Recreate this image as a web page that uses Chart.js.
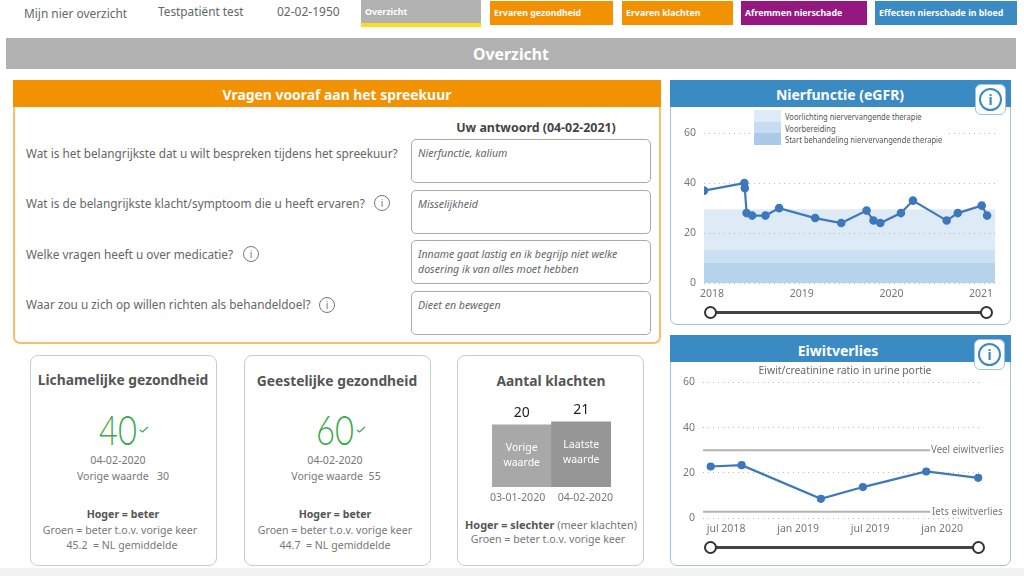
<!DOCTYPE html>
<html>
<head>
<meta charset="utf-8">
<script src="https://cdn.jsdelivr.net/npm/chart.js@4"></script>
<style>
  html, body { margin: 0; padding: 0; background: #fff; }
  body { width: 1024px; height: 576px; position: relative; overflow: hidden; font-family: "Noto Sans", "Open Sans", sans-serif; color: #666; }
  .t { position: absolute; white-space: nowrap; transform: translateY(-50%); }
  .c { position: absolute; white-space: nowrap; transform: translate(-50%, -50%); }
  .box { position: absolute; box-sizing: border-box; }
  .nav { position: absolute; top: 1px; height: 24px; line-height: 24px; color: #fff; font-weight: 700; font-size: 8.8px; padding-left: 4px; box-sizing: border-box; }
  .answer { position: absolute; left: 411px; width: 240px; height: 44px; box-sizing: border-box; border: 1px solid #aaa; border-radius: 5px; padding: 6px 6px; font-size: 10.6px; line-height: 15px; font-style: italic; color: #666; }
  .q { font-size: 11.8px; color: #666; }
  .info { position: absolute; width: 16px; height: 16px; box-sizing: border-box; border: 1.2px solid #777; border-radius: 50%; font-size: 10px; line-height: 14px; text-align: center; color: #777; }
  .card { position: absolute; top: 355px; width: 187px; height: 211px; box-sizing: border-box; border: 1.5px solid #ccc; border-radius: 8px; }
  .ct { font-size: 13.8px; font-weight: 700; color: #555; }
  .small { font-size: 10.6px; color: #777; }
  .big { font-family: Lato, "Noto Sans", sans-serif; font-size: 41px; font-weight: 300; color: #3BAA4E; transform: translate(-50%, -50%) scaleX(0.8); }
  .panel { position: absolute; left: 670px; width: 341px; box-sizing: border-box; border: 1.5px solid #A3C3DC; border-radius: 0 0 7px 7px; }
  .phead { position: absolute; left: 670px; width: 341px; height: 27px; background: #3A8BC4; }
  .iconbox { position: absolute; width: 31px; height: 31px; box-sizing: border-box; background: #fff; border: 1px solid #A3C3DC; border-radius: 6px; }
  .iconbox div { position: absolute; left: 3px; top: 3px; width: 23px; height: 23px; box-sizing: border-box; border: 2.2px solid #3A8BC4; border-radius: 50%; color: #3A8BC4; font-weight: 700; font-size: 14px; line-height: 19px; text-align: center; }
  .track { position: absolute; height: 3px; background: #444; }
  .knob { position: absolute; width: 13px; height: 13px; box-sizing: border-box; background: #fff; border: 2px solid #333; border-radius: 50%; }
  canvas { position: absolute; }
  .legend-swatch { position: absolute; left: 754px; width: 27px; height: 11.5px; }
  .squeeze { transform: translateY(-50%) scaleX(0.9); transform-origin: left center; }
</style>
</head>
<body>

<div class="t" style="left:24px;top:13px;font-size:11.9px">Mijn nier overzicht</div>
<div class="t" style="left:158px;top:11px;font-size:11.8px">Testpatiënt test</div>
<div class="t" style="left:277px;top:11px;font-size:12px">02-02-1950</div>

<div class="nav" style="left:361px;top:0;width:120px;height:23px;background:#B1B1B1">Overzicht</div>
<div class="box" style="left:361px;top:23px;width:120px;height:4px;background:#FFDD1E"></div>
<div class="nav" style="left:490px;width:123px;background:#F39200">Ervaren gezondheid</div>
<div class="nav" style="left:622px;width:111px;background:#F39200">Ervaren klachten</div>
<div class="nav" style="left:741px;width:126px;background:#94187F">Afremmen nierschade</div>
<div class="nav" style="left:875px;width:142px;background:#3A8BC4">Effecten nierschade in bloed</div>

<div class="box" style="left:6px;top:38px;width:1010px;height:31px;background:#B1B1B1"></div>
<div class="c" style="left:511px;top:54px;font-size:15.8px;font-weight:700;color:#fff">Overzicht</div>

<!-- vragen -->
<div class="box" style="left:13px;top:80px;width:648px;height:264px;border:2px solid #F7BE6E;border-radius:0 0 7px 7px"></div>
<div class="box" style="left:13px;top:80px;width:648px;height:27px;background:#F39200"></div>
<div class="c" style="left:337px;top:94px;font-size:13.9px;font-weight:700;color:#fff">Vragen vooraf aan het spreekuur</div>
<div class="c" style="left:536px;top:127px;font-size:12.4px;font-weight:700;color:#444">Uw antwoord (04-02-2021)</div>

<div class="t q" style="left:26px;top:153px">Wat is het belangrijkste dat u wilt bespreken tijdens het spreekuur?</div>
<div class="t q" style="left:26px;top:203px">Wat is de belangrijkste klacht/symptoom die u heeft ervaren?</div>
<div class="info" style="left:374px;top:195px">i</div>
<div class="t q" style="left:26px;top:254px">Welke vragen heeft u over medicatie?</div>
<div class="info" style="left:243px;top:246px">i</div>
<div class="t q" style="left:26px;top:304px">Waar zou u zich op willen richten als behandeldoel?</div>
<div class="info" style="left:319px;top:297px">i</div>

<div class="answer" style="top:139px">Nierfunctie, kalium</div>
<div class="answer" style="top:190px">Misselijkheid</div>
<div class="answer" style="top:240px">Inname gaat lastig en ik begrijp niet welke dosering ik van alles moet hebben</div>
<div class="answer" style="top:291px">Dieet en bewegen</div>

<!-- kaarten -->
<div class="card" style="left:30px"></div>
<div class="c ct" style="left:123px;top:379px">Lichamelijke gezondheid</div>
<div class="c big" style="left:118px;top:429px">40</div>
<svg class="box" style="left:138px;top:424px" width="12" height="10"><path d="M2 6 L4.5 8 L10 3" fill="none" stroke="#3BAA4E" stroke-width="1.2"/></svg>
<div class="c small" style="left:118px;top:460px">04-02-2020</div>
<div class="c small" style="left:123px;top:476px">Vorige waarde&nbsp;&nbsp; 30</div>
<div class="c small" style="left:123px;top:514px;font-weight:700;color:#555">Hoger = beter</div>
<div class="c small" style="left:120px;top:530px">Groen = beter t.o.v. vorige keer</div>
<div class="c small" style="left:122px;top:545px">45.2&nbsp; = NL gemiddelde</div>

<div class="card" style="left:244px"></div>
<div class="c ct" style="left:337px;top:380px">Geestelijke gezondheid</div>
<div class="c big" style="left:335px;top:429px">60</div>
<svg class="box" style="left:355px;top:424px" width="12" height="10"><path d="M2 6 L4.5 8 L10 3" fill="none" stroke="#3BAA4E" stroke-width="1.2"/></svg>
<div class="c small" style="left:335px;top:460px">04-02-2020</div>
<div class="c small" style="left:336px;top:476px">Vorige waarde&nbsp; 55</div>
<div class="c small" style="left:335px;top:514px;font-weight:700;color:#555">Hoger = beter</div>
<div class="c small" style="left:335px;top:530px">Groen = beter t.o.v. vorige keer</div>
<div class="c small" style="left:335px;top:545px">44.7&nbsp; = NL gemiddelde</div>

<div class="card" style="left:457px"></div>
<div class="c ct" style="left:551px;top:380px">Aantal klachten</div>
<canvas id="klachtenChart" width="145" height="112" style="left:480px;top:400px"></canvas>
<div class="c small" style="left:551px;top:524px;font-size:10.9px"><b style="color:#555">Hoger = slechter</b> (meer klachten)</div>
<div class="c small" style="left:548px;top:539px">Groen = beter t.o.v. vorige keer</div>

<!-- nierfunctie -->
<div class="panel" style="top:80px;height:245px"></div>
<div class="phead" style="top:80px"></div>
<div class="c" style="left:840px;top:94px;font-size:14px;font-weight:700;color:#fff">Nierfunctie (eGFR)</div>
<canvas id="egfrChart" width="340" height="206" style="left:670px;top:102px"></canvas>
<div class="box" style="left:754px;top:110px;width:192px;height:34px;background:#fff"></div>
<div id="egfrLegend"></div>
<div class="iconbox" style="left:975px;top:84px"><div>i</div></div>
<div class="track" style="left:711px;top:311px;width:275px"></div>
<div class="knob" style="left:704px;top:306px"></div>
<div class="knob" style="left:980px;top:306px"></div>

<!-- eiwitverlies -->
<div class="panel" style="top:335px;height:231px"></div>
<div class="phead" style="top:335px"></div>
<div class="c" style="left:838px;top:350px;font-size:14px;font-weight:700;color:#fff">Eiwitverlies</div>
<canvas id="eiwitChart" width="340" height="178" style="left:670px;top:365px"></canvas>
<div class="c" style="left:845px;top:370px;font-size:10.4px;color:#666">Eiwit/creatinine ratio in urine portie</div>
<div class="t squeeze" style="left:931px;top:448px;font-size:10.8px;color:#777">Veel eiwitverlies</div>
<div class="t squeeze" style="left:932px;top:510px;font-size:10.8px;color:#777">Iets eiwitverlies</div>
<div class="iconbox" style="left:974px;top:339px"><div>i</div></div>
<div class="track" style="left:710px;top:546px;width:268px"></div>
<div class="knob" style="left:704px;top:541px"></div>
<div class="knob" style="left:972px;top:541px"></div>

<div class="box" style="left:0;top:568px;width:1024px;height:8px;background:#F2F2F2"></div>

<script>
// eGFR
const egfrYears = [2017.91, 2018.36, 2018.365, 2018.385, 2018.447, 2018.595, 2018.748, 2019.15, 2019.44, 2019.723, 2019.8, 2019.876, 2020.106, 2020.24, 2020.616, 2020.74, 2021.007, 2021.067];
const egfrValues = [37, 40, 38, 28, 27, 27, 30, 26, 24, 29, 25, 24, 28, 33, 25, 28, 31, 27];
const yearTicks = [2018, 2019, 2020, 2021];
const bandEdges = [2017.91, 2021.155];
const bandLabels = ['Voorlichting niervervangende therapie', 'Voorbereiding', 'Start behandeling niervervangende therapie'];
const bandTops = [29.5, 13.3, 8];
const bandColors = ['rgba(91,155,213,0.2)', 'rgba(91,155,213,0.14)', 'rgba(91,155,213,0.18)'];
const legendColors = ['#DEEBF7', '#C6DCF0', '#A9CBE9'];

// eiwit / creatinine, x is months since jan 2018
const eiwitMonths = [4.72, 7.3, 13.9, 17.4, 22.67, 27];
const eiwitValues = [22.8, 23.4, 8.5, 13.7, 20.6, 17.8];
const monthTicks = [6, 12, 18, 24];
const monthLabels = ['jul 2018', 'jan 2019', 'jul 2019', 'jan 2020'];
const refMonths = [4.08, 23];
const veelValues = [30, 30];
const ietsValues = [2.8, 2.8];

// klachten
const klachtenDates = ['03-01-2020', '04-02-2020'];
const klachtenValues = [20, 21];
const klachtenNames = [['Vorige', 'waarde'], ['Laatste', 'waarde']];
const klachtenColors = ['#A8A8A8', '#969696'];

const fontName = '"Noto Sans", sans-serif';
const lineBlue = '#3D78BC';

function setTicks(values) {
    return function(scale) {
        scale.ticks = values.map(v => ({ value: v }));
    };
}

function yAxis(max, width) {
    return {
        min: 0,
        max: max,
        ticks: { stepSize: 20, includeBounds: false, color: '#777', padding: 8, font: { family: fontName, size: 10.5 } },
        grid: { color: '#BDBDBD', drawTicks: false },
        border: { display: false, dash: [1, 4] },
        afterFit: s => { s.width = width; s.paddingTop = 0; s.paddingBottom = 0; }
    };
}

function xAxis(min, max, values, labelFn) {
    return {
        type: 'linear',
        min: min,
        max: max,
        afterBuildTicks: setTicks(values),
        ticks: { color: '#777', padding: 5, autoSkip: false, maxRotation: 0, font: { family: fontName, size: 10.5 }, callback: labelFn },
        grid: { display: false, drawTicks: false },
        border: { display: false },
        afterFit: s => { s.height = 25; }
    };
}

function toXY(xs, ys) {
    return xs.map((x, i) => ({ x: x, y: ys[i] }));
}

const bandSets = bandTops.map((top, i) => ({
    label: bandLabels[i],
    data: toXY(bandEdges, [top, top]),
    borderWidth: 0,
    pointRadius: 0,
    fill: 'origin',
    backgroundColor: bandColors[i],
    order: 5
}));

new Chart(document.getElementById('egfrChart'), {
    type: 'line',
    data: {
        datasets: [{
            label: 'eGFR',
            data: toXY(egfrYears, egfrValues),
            borderColor: lineBlue,
            backgroundColor: lineBlue,
            borderWidth: 2.2,
            pointRadius: 3.2,
            tension: 0,
            order: 1
        }].concat(bandSets)
    },
    options: {
        responsive: false,
        animation: false,
        layout: { padding: { right: 15 } },
        plugins: { legend: { display: false }, tooltip: { enabled: false } },
        scales: {
            x: xAxis(bandEdges[0], bandEdges[1], yearTicks, v => String(v)),
            y: yAxis(70, 34)
        }
    }
});

new Chart(document.getElementById('eiwitChart'), {
    type: 'line',
    data: {
        datasets: [{
            label: 'Eiwitverlies',
            data: toXY(eiwitMonths, eiwitValues),
            borderColor: lineBlue,
            backgroundColor: lineBlue,
            borderWidth: 2.2,
            pointRadius: 3,
            tension: 0
        }, {
            label: 'Veel eiwitverlies',
            data: toXY(refMonths, veelValues),
            borderColor: '#B4B4B4',
            borderWidth: 2,
            pointRadius: 0
        }, {
            label: 'Iets eiwitverlies',
            data: toXY(refMonths, ietsValues),
            borderColor: '#B4B4B4',
            borderWidth: 2,
            pointRadius: 0
        }]
    },
    options: {
        responsive: false,
        animation: false,
        layout: { padding: { right: 27 } },
        plugins: { legend: { display: false }, tooltip: { enabled: false } },
        scales: {
            x: xAxis(4.08, 27.4, monthTicks, (v, i) => monthLabels[i]),
            y: yAxis(65, 33)
        }
    }
});

// text on and above the bars
const barText = {
    id: 'barText',
    afterDatasetsDraw(chart) {
        const ctx = chart.ctx;
        chart.getDatasetMeta(0).data.forEach((bar, i) => {
            ctx.save();
            ctx.textAlign = 'center';
            ctx.textBaseline = 'middle';
            ctx.fillStyle = '#222';
            ctx.font = '14px ' + fontName;
            ctx.fillText(klachtenValues[i], bar.x, bar.y - 12);
            ctx.fillStyle = '#fff';
            ctx.font = '10.5px ' + fontName;
            klachtenNames[i].forEach((line, j) => {
                ctx.fillText(line, bar.x, bar.y + 23 + j * 15);
            });
            ctx.restore();
        });
    }
};

new Chart(document.getElementById('klachtenChart'), {
    type: 'bar',
    data: {
        labels: klachtenDates,
        datasets: [{
            data: klachtenValues,
            backgroundColor: klachtenColors,
            barPercentage: 1,
            categoryPercentage: 1
        }]
    },
    options: {
        responsive: false,
        animation: false,
        layout: { padding: { left: 12, right: 14 } },
        plugins: { legend: { display: false }, tooltip: { enabled: false } },
        scales: {
            x: {
                ticks: {
                    color: '#777',
                    padding: 5,
                    autoSkip: false,
                    maxRotation: 0,
                    font: { family: fontName, size: 10.6 },
                    // dates sit a bit further apart than the bars
                    callback: (v, i) => i === 0 ? klachtenDates[i] + '\u00a0\u00a0\u00a0' : '\u00a0\u00a0\u00a0' + klachtenDates[i]
                },
                grid: { display: false, drawTicks: false },
                border: { display: false },
                afterFit: s => { s.height = 25; }
            },
            y: { display: false, min: 0, max: 28 }
        }
    },
    plugins: [barText]
});

// legend for the bands
const legendBox = document.getElementById('egfrLegend');
bandLabels.forEach((name, i) => {
    const top = 110 + i * 11.5;
    legendBox.insertAdjacentHTML('beforeend',
        '<div class="legend-swatch" style="top:' + top + 'px;background:' + legendColors[i] + '"></div>' +
        '<div class="t squeeze" style="left:785px;top:' + (top + 6) + 'px;font-size:8.4px;color:#555">' + name + '</div>');
});
</script>
</body>
</html>
